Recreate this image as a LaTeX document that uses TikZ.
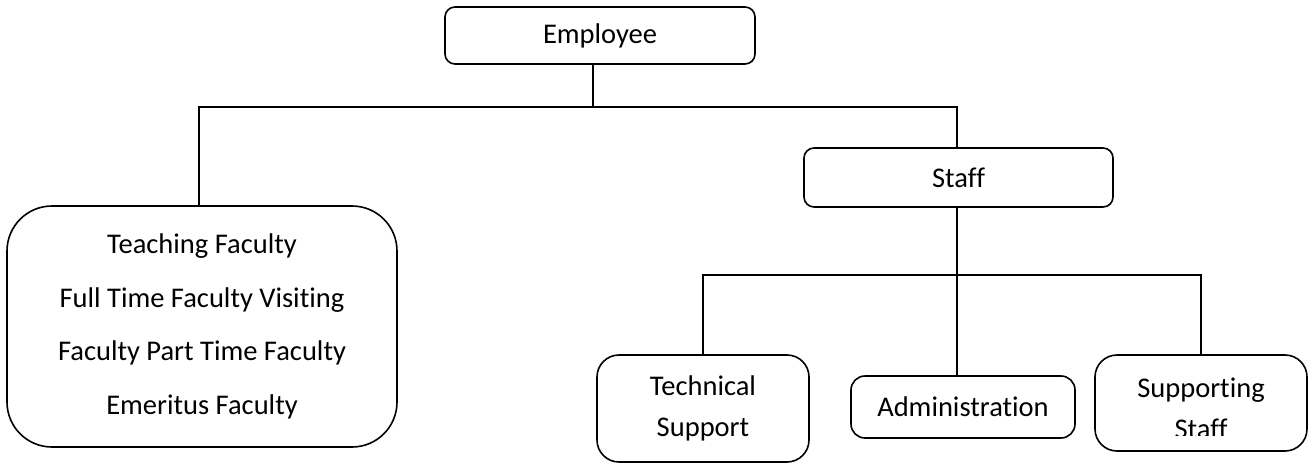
\documentclass[tikz,border=0pt]{standalone}
\usepackage{fontspec}
\setmainfont{Carlito}[Ligatures=NoCommon]
\begin{document}
\begin{tikzpicture}[x=1pt,y=-1pt,
  box/.style={draw=black,line width=1.6pt,fill=white,inner sep=0pt,align=center,
    font=\fontsize{28.5}{40.5}\selectfont},
  conn/.style={draw=black,line width=1.6pt}]
\useasboundingbox (0,0) rectangle (1309,463);
\node[box,rounded corners=10pt,minimum width=310pt,minimum height=57pt] (emp) at (600,35.5) {Employee};
\node[box,rounded corners=10pt,minimum width=309pt,minimum height=59pt] (staff) at (958.5,177.5) {Staff};
\node[box,rounded corners=45pt,minimum width=390pt,minimum height=241pt,
  font=\fontsize{28.5}{53.5}\selectfont] (fac) at (202,326.5)
  {Teaching Faculty\\Full Time Faculty Visiting\\Faculty Part Time Faculty\\Emeritus Faculty};
\node[box,rounded corners=22pt,minimum width=212pt,minimum height=107pt] (tech) at (703,408.5) {Technical\\Support};
\node[box,rounded corners=14pt,minimum width=224pt,minimum height=62pt] (admin) at (963,407) {Administration};
\node[box,rounded corners=22pt,minimum width=212pt,minimum height=96pt] (supp) at (1201,403) {};
\begin{scope}
  \clip (1096,356) rectangle (1306,435.8);
  \node[box,draw=none,fill=none] (supptext) at (1201,408.5) {Supporting\\Staff};
\end{scope}
\coordinate (j1) at (593,107);
\coordinate (bL) at (199,107);
\coordinate (bR) at (957,107);
\coordinate (cL) at (703,275);
\coordinate (cM) at (957,275);
\coordinate (cR) at (1201,275);
\draw[conn] (emp.south -| j1) -- (j1);
\draw[conn] (bL |- fac.north) -- (bL) -- (bR) -- (bR |- staff.north);
\draw[conn] (staff.south -| cM) -- (cM);
\draw[conn] (cL |- tech.north) -- (cL) -- (cR) -- (cR |- supp.north);
\draw[conn] (cM) -- (cM |- admin.north);
\end{tikzpicture}
\end{document}
